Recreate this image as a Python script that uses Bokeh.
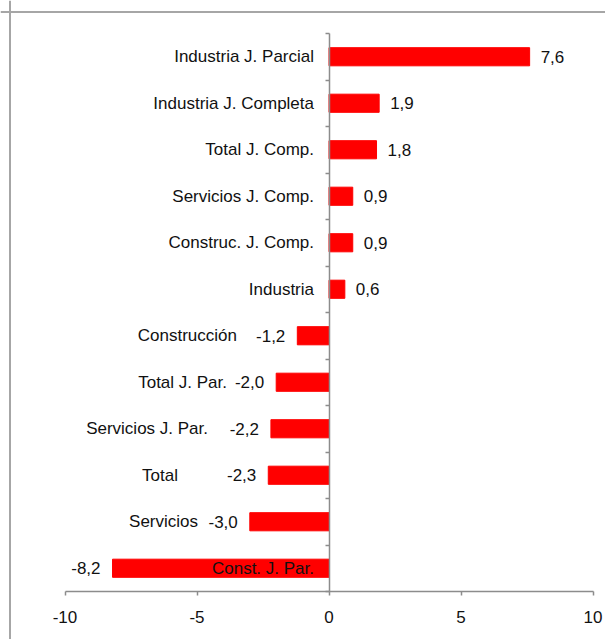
from bokeh.plotting import figure
from bokeh.models import ColumnDataSource, LinearAxis, FixedTicker, Range1d, Span
from bokeh.core.properties import value
from bokeh.embed import file_html
from bokeh.resources import INLINE

# ---- data (top to bottom) ----
categories = [
    "Industria J. Parcial", "Industria J. Completa", "Total J. Comp.",
    "Servicios J. Comp.", "Construc. J. Comp.", "Industria",
    "Construcción", "Total J. Par.", "Servicios J. Par.", "Total",
    "Servicios", "Const. J. Par.",
]
values = [7.6, 1.9, 1.8, 0.9, 0.9, 0.6, -1.2, -2.0, -2.2, -2.3, -3.0, -8.2]
x_ticks = [-10, -5, 0, 5, 10]
x_tick_labels = ["-10", "-5", "0", "5", "10"]

# label placement (pixel offsets of the category names from the zero line)
name_offsets = [-15, -15, -15, -15, -15, -15, -92, -102, -121, -151, -131, -15]

FONT = "Liberation Sans"
FS = "17px"
n = len(categories)
ypos = [n - 1 - i for i in range(n)]

# pixel geometry
W, H = 605, 639
zero_px, px_per_x = 328.5, 26.4      # relative to figure left
x0 = -zero_px / px_per_x
x1 = (W - zero_px) / px_per_x
top_b_px, bot_b_px = 33, 591          # category boundaries, relative to figure top
px_per_y = (bot_b_px - top_b_px) / n
y1 = (n - 0.5) + top_b_px / px_per_y
y0 = -0.5 - (H - bot_b_px) / px_per_y

p = figure(width=W, height=H, output_backend="svg", toolbar_location=None,
           x_axis_type=None, y_axis_type=None,
           x_range=Range1d(x0, x1), y_range=Range1d(y0, y1),
           min_border_left=0, min_border_right=0, min_border_top=0, min_border_bottom=0)
p.outline_line_color = None
p.background_fill_color = "white"
p.border_fill_color = "white"

src = ColumnDataSource(dict(y=ypos, v=values, name=categories, off=name_offsets,
                            lab=[f"{v:.1f}".replace(".", ",") for v in values]))
p.hbar(y="y", left=0, right="v", height=0.39, source=src,
       fill_color="#ff0000", line_color="#ff0000")

pos = [i for i, v in enumerate(values) if v >= 0]
neg = [i for i, v in enumerate(values) if v < 0]
src_pos = ColumnDataSource(dict(x=[values[i] for i in pos], y=[ypos[i] for i in pos],
                                t=[src.data["lab"][i] for i in pos]))
src_neg = ColumnDataSource(dict(x=[values[i] for i in neg], y=[ypos[i] for i in neg],
                                t=[src.data["lab"][i] for i in neg]))
p.text(x="x", y="y", text="t", source=src_pos, x_offset=11, text_align="left",
       text_baseline="middle", text_font=value(FONT), text_font_size=FS, text_color="#111111")
p.text(x="x", y="y", text="t", source=src_neg, x_offset=-12, text_align="right",
       text_baseline="middle", text_font=value(FONT), text_font_size=FS, text_color="#111111")

# category names
p.text(x=0, y="y", text="name", x_offset="off", source=src, text_align="right",
       text_baseline="middle", text_font=value(FONT), text_font_size=FS, text_color="#111111")

axis_color = "#8c8c8c"
xaxis = LinearAxis(fixed_location=-0.5, ticker=FixedTicker(ticks=x_ticks), bounds=(x_ticks[0], x_ticks[-1]))
xaxis.major_label_overrides = {t: l for t, l in zip(x_ticks, x_tick_labels)}
xaxis.axis_line_color = axis_color
xaxis.axis_line_width = 1.5
xaxis.major_tick_line_color = axis_color
xaxis.major_tick_line_width = 1.5
xaxis.major_tick_in = 0
xaxis.major_tick_out = 4
xaxis.minor_tick_line_color = None
xaxis.major_label_standoff = 15
xaxis.major_label_text_font = FONT
xaxis.major_label_text_font_size = FS
xaxis.major_label_text_color = "#111111"
p.add_layout(xaxis, "below")

yaxis = LinearAxis(fixed_location=0, ticker=FixedTicker(ticks=[i - 0.5 for i in range(n + 1)]),
                   bounds=(-0.5, n - 0.5))
yaxis.axis_line_color = axis_color
yaxis.axis_line_width = 1.5
yaxis.major_tick_line_color = axis_color
yaxis.major_tick_line_width = 1.5
yaxis.major_tick_in = 0
yaxis.major_tick_out = 4
yaxis.minor_tick_line_color = None
yaxis.major_label_text_font_size = "0px"
yaxis.major_label_text_color = None
p.add_layout(yaxis, "left")

# chart-area border (left and top edges)
border = "#a6a6a6"
p.add_layout(Span(location=x0 + 9.5 / px_per_x, dimension="height", line_color=border, line_width=2))
p.add_layout(Span(location=y1 - 11.5 / px_per_y, dimension="width", line_color=border, line_width=2))

open("out.html", "w").write(file_html(p, INLINE))
